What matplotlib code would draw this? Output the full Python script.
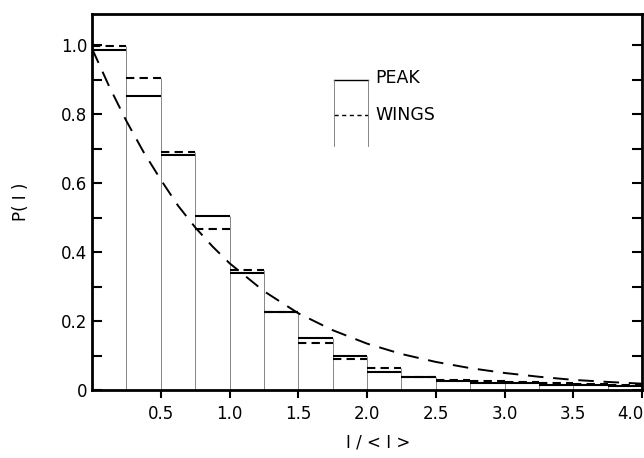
import matplotlib
matplotlib.use('Agg')
import matplotlib.pyplot as plt
import matplotlib.transforms as mtransforms
from matplotlib.ticker import MultipleLocator, FixedLocator

# bin edges (width 0.25) and heights
edges = [0.0, 0.25, 0.5, 0.75, 1.0, 1.25, 1.5, 1.75, 2.0, 2.25, 2.5, 2.75,
         3.0, 3.25, 3.5, 3.75, 4.0]
peak = [0.985, 0.852, 0.683, 0.504, 0.339, 0.227, 0.150, 0.099, 0.054, 0.037,
        0.027, 0.022, 0.020, 0.016, 0.014, 0.012]
wings = [0.998, 0.905, 0.690, 0.466, 0.349, 0.227, 0.136, 0.090, 0.064, 0.037,
         0.030, 0.027, 0.024, 0.020, 0.017, 0.015]

# long-dashed reference curve
curve_x = [0.0, 0.125, 0.25, 0.375, 0.5, 0.625, 0.75, 0.875, 1.0, 1.25, 1.5,
           1.75, 2.0, 2.25, 2.5, 2.75, 3.0, 3.25, 3.5, 3.75, 4.0]
curve_y = [0.99, 0.88, 0.78, 0.69, 0.61, 0.535, 0.472, 0.417, 0.368, 0.287,
           0.223, 0.174, 0.135, 0.105, 0.082, 0.064, 0.050, 0.039, 0.030,
           0.024, 0.019]

xticks = [0.5, 1.0, 1.5, 2.0, 2.5, 3.0, 3.5, 4.0]
xticklabels = ['0.5', '1.0', '1.5', '2.0', '2.5', '3.0', '3.5', '4.0']
yticks = [0, 0.2, 0.4, 0.6, 0.8, 1.0]
yticklabels = ['0', '0.2', '0.4', '0.6', '0.8', '1.0']

plt.rcParams['font.family'] = ['DejaVu Sans']

fig = plt.figure(figsize=(6.44, 4.58), dpi=100)
ax = fig.add_axes([0.143, 0.148, 0.854, 0.821])

# thin bin edges
for i in range(len(peak)):
    top_left = max(peak[i], wings[i])
    prev = max(peak[i-1], wings[i-1]) if i > 0 else 0
    ax.vlines(edges[i], 0, max(top_left, prev), color='0.45', lw=0.6)

# bin tops
ax.hlines(peak, edges[:-1], edges[1:], colors='black', lw=1.5)
ax.hlines(wings, edges[:-1], edges[1:], colors='black', lw=1.5,
          linestyles=(0, (4, 2.5)))

ax.plot(curve_x, curve_y, color='black', lw=1.4, linestyle=(0, (8, 5)))

# legend drawn like a small bin
lx0, lx1 = 0.44, 0.502
ax.plot([lx0, lx1], [0.824, 0.824], transform=ax.transAxes, color='black', lw=1.0)
ax.plot([lx0, lx1], [0.731, 0.731], transform=ax.transAxes, color='black', lw=1.0,
        linestyle=(0, (3, 2.5)))
ax.plot([lx0, lx0], [0.649, 0.824], transform=ax.transAxes, color='0.45', lw=0.6)
ax.plot([lx1, lx1], [0.649, 0.824], transform=ax.transAxes, color='0.45', lw=0.6)
ax.text(0.515, 0.83, 'PEAK', transform=ax.transAxes, fontsize=12.5, va='center')
ax.text(0.515, 0.733, 'WINGS', transform=ax.transAxes, fontsize=12.5, va='center')

ax.set_xlim(0, 4.0)
ax.set_ylim(0, 1.09)

ax.xaxis.set_major_locator(FixedLocator(xticks))
ax.set_xticklabels(xticklabels)
ax.set_yticks(yticks)
ax.set_yticklabels(yticklabels)
ax.yaxis.set_minor_locator(MultipleLocator(0.1))
ax.tick_params(axis='x', direction='out', length=6, width=1.5, labelsize=12, pad=5)
ax.tick_params(axis='y', which='both', direction='in', length=7, width=1.5,
               labelsize=12, right=True)
ax.tick_params(axis='y', which='both', labelright=False)

# keep the last x label inside the figure
last = ax.get_xticklabels()[-1]
last.set_transform(last.get_transform() +
                   mtransforms.ScaledTranslation(-12 / 100, 0, fig.dpi_scale_trans))

for s in ax.spines.values():
    s.set_linewidth(2.0)

ax.set_xlabel('I / < I >', fontsize=12)
ax.xaxis.set_label_coords(0.52, -0.115)
ax.set_ylabel('P( I )', fontsize=12, labelpad=22)

fig.savefig('out.png', dpi=100)
